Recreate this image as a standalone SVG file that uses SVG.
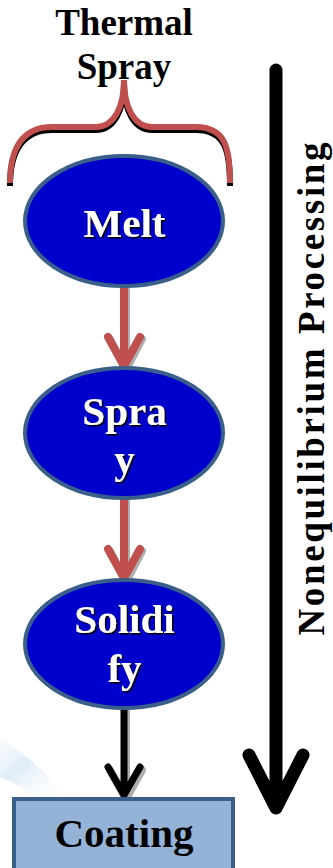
<svg xmlns="http://www.w3.org/2000/svg" width="333" height="868" viewBox="0 0 333 868">
  <defs>
    <linearGradient id="swoosh" x1="0" y1="0" x2="1" y2="1">
      <stop offset="0" stop-color="#ffffff" stop-opacity="0"/>
      <stop offset="0.5" stop-color="#dae8f6" stop-opacity="0.85"/>
      <stop offset="1" stop-color="#ffffff" stop-opacity="0"/>
    </linearGradient>
    <filter id="txtshadow" x="-10%" y="-10%" width="120%" height="130%">
      <feDropShadow dx="1.5" dy="1.5" stdDeviation="0.3" flood-color="#000000" flood-opacity="1"/>
    </filter>
  </defs>
  <style>
    .title { font-family: "Liberation Serif", "Times New Roman", serif; font-weight: bold; font-size: 37px; fill: #000; text-anchor: middle; }
    .node { fill: #0000CC; stroke: #3A5F8B; stroke-width: 4; }
    .lbl { font-family: "Liberation Serif", "Times New Roman", serif; font-weight: bold; font-size: 41px; text-anchor: middle; }
    .lbl-w { fill: #ffffff; filter: url(#txtshadow); }
    .red { fill: none; stroke: #C0504D; stroke-width: 8; stroke-linecap: round; stroke-linejoin: round; }
    .blk { fill: none; stroke: #000; stroke-width: 7; stroke-linecap: round; stroke-linejoin: round; }
    .shd { fill: none; stroke: #9a9a9a; stroke-width: 8; stroke-linecap: round; stroke-linejoin: round; opacity: 0.8; }
    .big { fill: none; stroke: #000; stroke-width: 13; stroke-linecap: round; stroke-linejoin: round; }
  </style>
  <rect width="333" height="868" fill="#ffffff"/>
  <path d="M -20 725 C 15 745 45 770 70 800 L 40 800 C 20 785 0 775 -20 770 Z" fill="url(#swoosh)"/>

  <g id="title">
    <text class="title" x="124" y="35">Thermal</text>
    <text class="title" x="124" y="79">Spray</text>
  </g>

  <g id="brace">
    <path d="M 10 186 C 10 152 22 130 52 130 L 96 130 C 114 130 124 110 124 84 C 124 110 134 130 152 130 L 196 130 C 226 130 230 152 230 186" fill="none" stroke="#000" stroke-width="6"/>
    <path d="M 10 183 C 10 149 22 127 52 127 L 96 127 C 114 127 124 107 124 80 C 124 107 134 127 152 127 L 196 127 C 226 127 230 149 230 183" fill="none" stroke="#C0504D" stroke-width="6"/>
  </g>

  <g id="connectors">
    <path class="shd" d="M 126 290 L 126 370 M 110 339 L 126 370 L 142 339"/>
    <path class="red" d="M 124 288 L 124 366 M 108 337 L 124 366 L 140 337"/>
    <path class="shd" d="M 126 500 L 126 582 M 110 551 L 126 582 L 142 551"/>
    <path class="red" d="M 124 498 L 124 578 M 108 549 L 124 578 L 140 549"/>
    <path class="shd" d="M 126 710 L 126 799 M 110 770 L 126 799 L 142 770" stroke-width="7"/>
    <path class="blk" d="M 124 708 L 124 795 M 108 767 L 124 795 L 140 767"/>
  </g>

  <g id="melt">
    <ellipse class="node" cx="124" cy="221" rx="99" ry="65"/>
    <text class="lbl lbl-w" x="124.5" y="237">Melt</text>
  </g>

  <g id="spray">
    <ellipse class="node" cx="124" cy="433" rx="99" ry="65"/>
    <text class="lbl lbl-w" x="124.5" y="425">Spra</text>
    <text class="lbl lbl-w" x="124.5" y="473">y</text>
  </g>

  <g id="solidify">
    <ellipse class="node" cx="124" cy="644" rx="99" ry="64"/>
    <text class="lbl lbl-w" x="124.5" y="633">Solidi</text>
    <text class="lbl lbl-w" x="124.5" y="682">fy</text>
  </g>

  <g id="coating">
    <rect x="14" y="799" width="219" height="80" fill="#95B3D7" stroke="#3A5F8B" stroke-width="4"/>
    <text class="lbl" x="124" y="847" fill="#000">Coating</text>
  </g>

  <g id="process-arrow">
    <path class="big" d="M 276 70 L 276 808 M 249 755 L 276 808 L 303 755"/>
    <text class="title" font-size="41" transform="translate(324 389) rotate(-90)" x="0" y="0" textLength="493" lengthAdjust="spacing">Nonequilibrium  Processing</text>
  </g>
</svg>
